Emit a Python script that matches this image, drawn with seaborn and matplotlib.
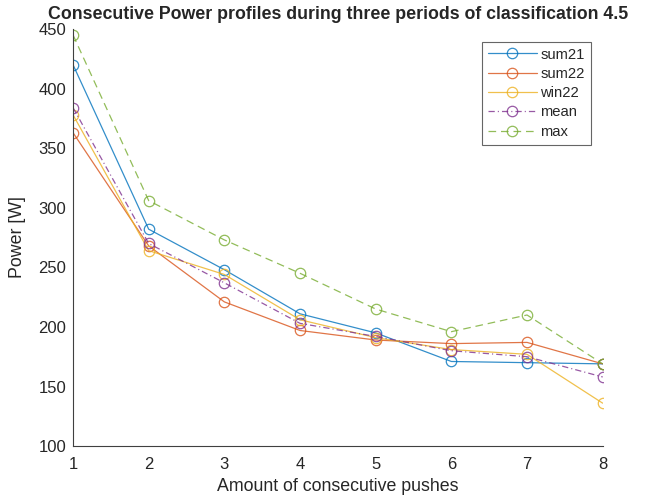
import matplotlib
matplotlib.use("Agg")
import matplotlib.pyplot as plt
import seaborn as sns
import pandas as pd

pushes = [1, 2, 3, 4, 5, 6, 7, 8]
sum21 = [420, 282, 248, 211, 195, 171, 170, 169]
sum22 = [363, 268, 221, 197, 189, 186, 187, 169]
win22 = [378, 264, 244, 206, 191, 181, 177, 136]
mean_v = [384, 270, 237, 203, 192, 180, 175, 158]
max_v = [445, 306, 273, 245, 215, 196, 210, 169]

names = ["sum21", "sum22", "win22", "mean", "max"]
series = [sum21, sum22, win22, mean_v, max_v]
colors = ["#0072BD", "#D95319", "#EDB120", "#7E2F8E", "#77AC30"]
styles = ["-", "-", "-", (0, (4.5, 2.2, 0.8, 2.2)), (0, (5.5, 3.5))]

sns.set_style("white")
plt.rcParams["font.family"] = ["Liberation Sans", "DejaVu Sans"]
plt.rcParams["lines.scale_dashes"] = False

fig = plt.figure(figsize=(6.46, 4.99), dpi=100)
ax = fig.add_axes([0.113, 0.106, 0.820, 0.836])

for name, vals, c, ls in zip(names, series, colors, styles):
    df = pd.DataFrame({"x": pushes, "y": vals})
    sns.lineplot(data=df, x="x", y="y", ax=ax, color=c, linestyle=ls,
                 marker="o", markersize=7.5, markerfacecolor="none",
                 markeredgecolor=c, markeredgewidth=0.9, linewidth=0.9,
                 alpha=0.8, label=name)

ax.set_xlim(1, 8)
ax.set_ylim(100, 450)
ax.set_xticks(pushes)
ax.set_yticks(range(100, 451, 50))
ax.tick_params(direction="in", length=4, width=0.8, colors="#404040",
               labelsize=12, labelcolor="#262626")
ax.tick_params(axis="x", pad=8)
ax.tick_params(axis="y", pad=5)
for s in ["top", "right"]:
    ax.spines[s].set_visible(False)
for s in ["left", "bottom"]:
    ax.spines[s].set_color("#404040")
    ax.spines[s].set_linewidth(0.8)
ax.set_xlabel("Amount of consecutive pushes", fontsize=12.8, color="#262626", labelpad=4)
ax.set_ylabel("Power [W]", fontsize=12.8, color="#262626", labelpad=9)
ax.set_title("Consecutive Power profiles during three periods of classification 4.5",
             fontsize=12.8, fontweight="bold", pad=7)
leg = ax.legend(loc="upper right", bbox_to_anchor=(0.977, 0.9695), fontsize=10.6,
                frameon=True, fancybox=False, edgecolor="#404040",
                handlelength=3.3, handletextpad=0.25, borderpad=0.4,
                labelspacing=0.36, borderaxespad=0)
leg.get_frame().set_linewidth(0.8)

fig.savefig("out.png", dpi=100, facecolor="white")
